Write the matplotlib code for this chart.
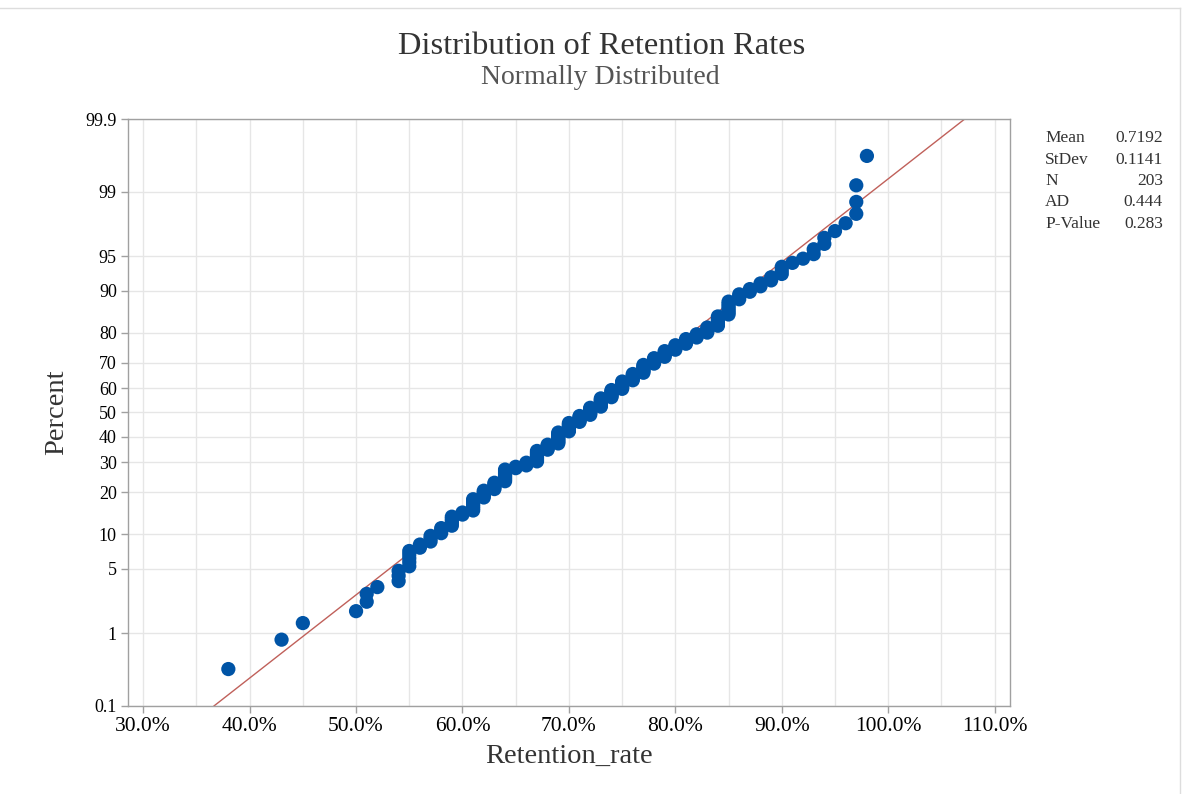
import numpy as np
import matplotlib
matplotlib.use("Agg")
import matplotlib.pyplot as plt
from matplotlib.lines import Line2D
from statistics import NormalDist

# Retention rates (fraction) and how many schools share each value
retention_values = [0.38, 0.43, 0.45, 0.50, 0.51, 0.52, 0.54, 0.55, 0.56, 0.57,
                    0.58, 0.59, 0.60, 0.61, 0.62, 0.63, 0.64, 0.65, 0.66, 0.67,
                    0.68, 0.69, 0.70, 0.71, 0.72, 0.73, 0.74, 0.75, 0.76, 0.77,
                    0.78, 0.79, 0.80, 0.81, 0.82, 0.83, 0.84, 0.85, 0.86, 0.87,
                    0.88, 0.89, 0.90, 0.91, 0.92, 0.93, 0.94, 0.95, 0.96, 0.97,
                    0.98]
retention_counts = [1, 1, 1, 1, 2, 1, 3, 5, 2, 3,
                    3, 5, 2, 7, 5, 5, 9, 2, 3, 9,
                    5, 10, 8, 6, 7, 8, 7, 7, 6, 7,
                    5, 5, 4, 4, 3, 4, 6, 7, 3, 2,
                    2, 2, 3, 1, 1, 2, 2, 1, 1, 3,
                    1]

# summary statistics shown in the side table
stat_names = ["Mean", "StDev", "N", "AD", "P-Value"]
stat_values = ["0.7192", "0.1141", "203", "0.444", "0.283"]
fit_mean = 0.7192
fit_sd = 0.1141

x_ticks = [0.3, 0.4, 0.5, 0.6, 0.7, 0.8, 0.9, 1.0, 1.1]
pct_ticks = [0.1, 1, 5, 10, 20, 30, 40, 50, 60, 70, 80, 90, 95, 99, 99.9]
pct_labels = ["0.1", "1", "5", "10", "20", "30", "40", "50", "60", "70",
              "80", "90", "95", "99", "99.9"]

nd = NormalDist()
data = np.sort(np.repeat(retention_values, retention_counts))
n = len(data)
# median ranks, plotted on a normal probability scale
ranks = np.arange(1, n + 1)
probs = (ranks - 0.3) / (n + 0.4)
z_pts = np.array([nd.inv_cdf(p) for p in probs])

plt.rcParams['font.family'] = ['Liberation Serif', 'DejaVu Serif']

fig = plt.figure(figsize=(11.84, 7.94), dpi=100)
ax = fig.add_axes([0.108, 0.111, 0.745, 0.739])

z_lo, z_hi = nd.inv_cdf(0.001), nd.inv_cdf(0.999)
ax.set_ylim(z_lo, z_hi)
ax.set_xlim(0.2856, 1.1144)

# gridlines every 5%, labelled ticks every 10%
ax.set_xticks(x_ticks)
ax.set_xticks(np.arange(0.35, 1.11, 0.1), minor=True)
ax.set_xticklabels(["{:.1f}%".format(v * 100) for v in x_ticks], fontsize=15.5)
ax.set_yticks([nd.inv_cdf(p / 100) for p in pct_ticks])
ax.set_yticklabels(pct_labels, fontsize=13)
ax.grid(True, which='both', color='#e6e6e6', linewidth=1)
ax.set_axisbelow(True)
ax.tick_params(axis='both', which='major', length=5, color='#a0a0a0', width=1, pad=3)
ax.tick_params(axis='x', which='minor', length=0)
for s in ax.spines.values():
    s.set_color('#a0a0a0')
    s.set_linewidth(1)

# fitted normal line
zz = np.array([z_lo, z_hi])
ax.plot(fit_mean + fit_sd * zz, zz, color='#c0605a', linewidth=1, zorder=2)

ax.scatter(data, z_pts, s=105, color='#0054a6', edgecolors='none', zorder=3)

ax.set_xlabel("Retention_rate", fontsize=20.5, color='#333333', labelpad=6)
ax.set_ylabel("Percent", fontsize=20.5, color='#333333', labelpad=12)

fig.text(0.508, 0.941, "Distribution of Retention Rates", ha='center', va='center',
         fontsize=23.4, color='#333333')
fig.text(0.507, 0.903, "Normally Distributed", ha='center', va='center',
         fontsize=20, color='#555555')

# statistics table on the right
for k, (name, val) in enumerate(zip(stat_names, stat_values)):
    y = 1 - (138 + k * 21.5) / 794
    fig.text(1045 / 1184, y, name, ha='left', va='center', fontsize=12.5, color='#333333')
    fig.text(1163 / 1184, y, val, ha='right', va='center', fontsize=12.5, color='#333333')

# thin frame lines along the top and right edges
fig.add_artist(Line2D([0, 1180 / 1184], [1 - 8 / 794, 1 - 8 / 794],
                      transform=fig.transFigure, color='#dddddd', linewidth=1))
fig.add_artist(Line2D([1180 / 1184, 1180 / 1184], [0, 1 - 8 / 794],
                      transform=fig.transFigure, color='#dddddd', linewidth=1))

fig.savefig("out.png", dpi=100)
